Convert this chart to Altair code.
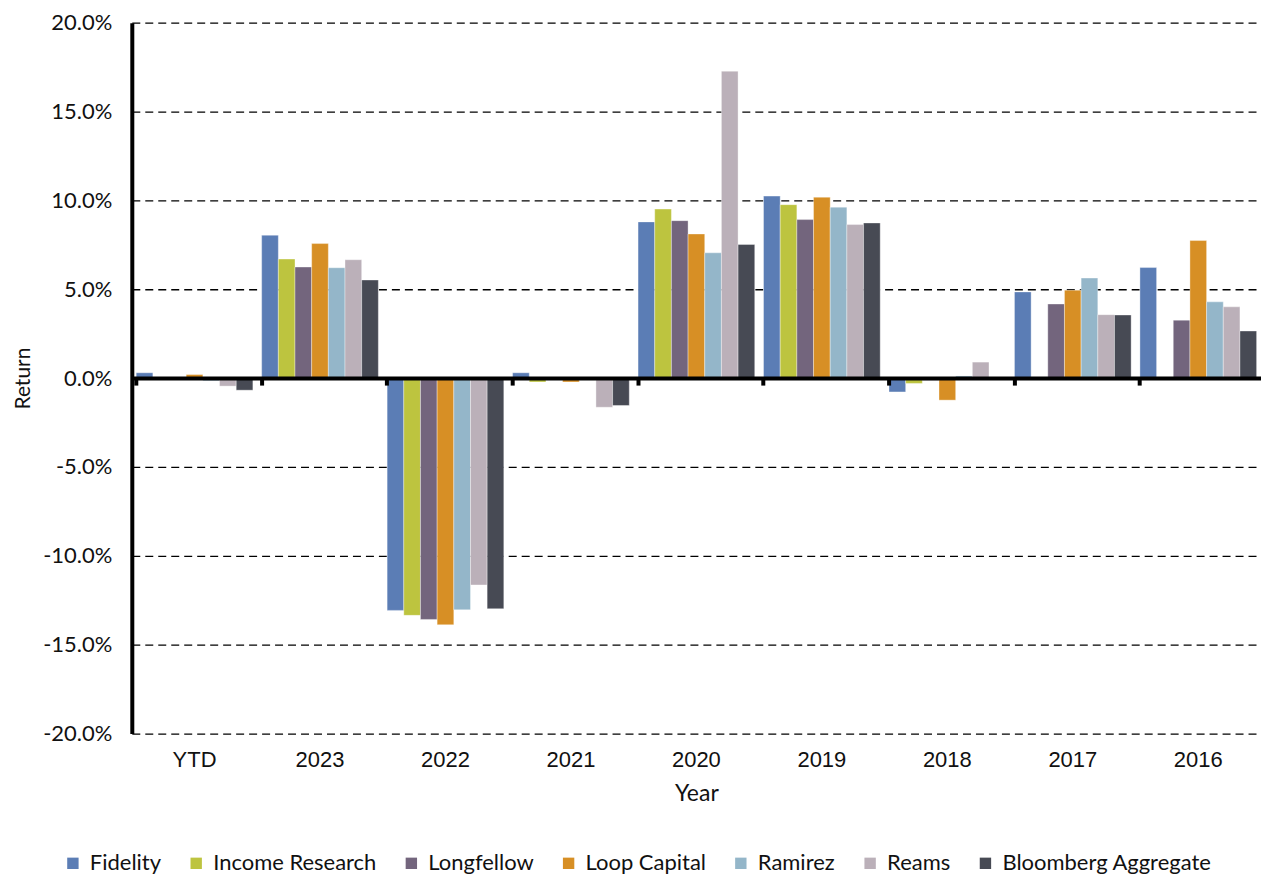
import altair as alt
import pandas as pd

years = ["YTD", "2023", "2022", "2021", "2020", "2019", "2018", "2017", "2016"]
managers = ["Fidelity", "Income Research", "Longfellow", "Loop Capital",
            "Ramirez", "Reams", "Bloomberg Aggregate"]
colors = ["#5B7DB5", "#BDC43F", "#73657D", "#D78F25", "#94B6C9", "#BBB0B9", "#474A54"]

# returns in percent
fidelity = [0.30, 8.04, -13.07, 0.30, 8.79, 10.24, -0.78, 4.85, 6.22]
income_research = [0.02, 6.70, -13.35, -0.22, 9.51, 9.76, -0.30, None, None]
longfellow = [0.02, 6.25, -13.58, -0.05, 8.86, 8.92, -0.12, 4.17, 3.26]
loop_capital = [0.20, 7.57, -13.88, -0.22, 8.11, 10.18, -1.24, 4.95, 7.74]
ramirez = [-0.15, 6.21, -13.04, 0.02, 7.05, 9.62, 0.12, 5.63, 4.29]
reams = [-0.45, 6.66, -11.64, -1.64, 17.27, 8.64, 0.90, 3.57, 4.01]
bloomberg = [-0.68, 5.52, -12.98, -1.54, 7.52, 8.73, 0.02, 3.55, 2.65]

series = [fidelity, income_research, longfellow, loop_capital, ramirez, reams, bloomberg]
rows = []
for m, vals in zip(managers, series):
    for y, v in zip(years, vals):
        if v is not None:
            rows.append({"Year": y, "Manager": m, "Return": v / 100.0})
df = pd.DataFrame(rows)

W, H = 1131, 712
FONT = "Lato"

xscale = alt.Scale(paddingInner=0.07, paddingOuter=0.035)

bars = alt.Chart(df).mark_bar(stroke="white", strokeWidth=0.6, strokeOpacity=0.6).encode(
    x=alt.X("Year:N", sort=years, scale=xscale,
            axis=alt.Axis(title="Year", domain=False, ticks=False, labelAngle=0,
                          labelFont="Liberation Sans", labelFontSize=22, labelColor="#111",
                          labelPadding=16, titleFont=FONT, titleFontSize=23,
                          titleFontWeight="normal", titleColor="#111", titlePadding=12)),
    xOffset=alt.XOffset("Manager:N", sort=managers,
                        scale=alt.Scale(paddingInner=0, paddingOuter=0)),
    y=alt.Y("Return:Q",
            scale=alt.Scale(domain=[-0.2, 0.2], nice=False, zero=False),
            axis=alt.Axis(title="Return", format=".1%",
                          labelExpr="replace(datum.label, '\u2212', '-')",
                          values=[-0.2, -0.15, -0.1, -0.05, 0, 0.05, 0.1, 0.15, 0.2],
                          grid=True, gridColor="black", gridDash=[8, 5], gridWidth=1.3,
                          domain=True, domainColor="black", domainWidth=4,
                          ticks=False, labelPadding=20, labelFont=FONT,
                          labelFontSize=22, labelColor="#111",
                          titleFont=FONT, titleFontSize=21, titleFontWeight="normal",
                          titleColor="#111", titlePadding=9)),
    color=alt.Color("Manager:N", sort=managers,
                    scale=alt.Scale(domain=managers, range=colors),
                    legend=alt.Legend(title=None, orient="none", direction="horizontal",
                                      legendX=-70, legendY=831,
                                      symbolType="square", symbolSize=130,
                                      symbolStrokeWidth=0, labelFont=FONT,
                                      labelFontSize=22, labelColor="#111",
                                      labelLimit=0,
                                      columnPadding=23.5, labelOffset=6)),
)

zero_axis = alt.Chart(pd.DataFrame({"Year": years})).mark_point(opacity=0).encode(
    x=alt.X("Year:N", sort=years, scale=xscale,
            axis=alt.Axis(orient="bottom", offset=-H / 2, labels=False, title=None,
                          bandPosition=0, domain=True, domainColor="black",
                          domainWidth=4, ticks=True, tickColor="black", tickWidth=4,
                          tickSize=7, grid=False, zindex=2)),
)

chart = alt.layer(bars, zero_axis).resolve_axis(x="independent").properties(
    width=W, height=H,
    padding={"left": 4, "right": 0, "top": 3, "bottom": 0},
    background="white",
).configure_view(stroke=None)

chart.save("out.html", embed_options={"renderer": "svg", "actions": False})
